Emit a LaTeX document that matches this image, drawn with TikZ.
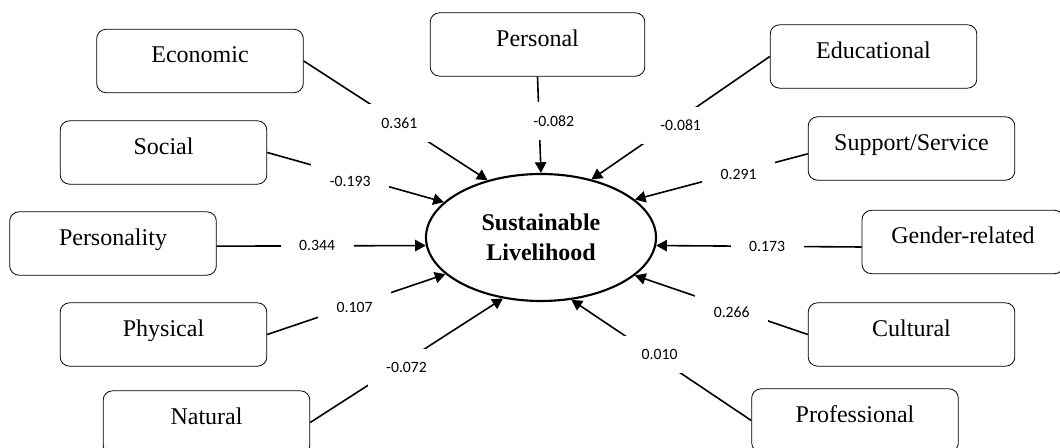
\documentclass[tikz,border=0pt]{standalone}
\usepackage{fontspec}
\setmainfont{Liberation Serif}
\newfontfamily\lblfont{Carlito}
\usetikzlibrary{arrows.meta,shapes.geometric}
\begin{document}
\begin{tikzpicture}[x=0.75pt,y=-0.75pt,>={Triangle[length=8pt,width=8.5pt]},
	factor/.style={draw,line width=0.6pt,rounded corners=7pt,minimum width=155pt,minimum height=47.5pt,inner sep=0pt,text height=12pt,text depth=9pt,font=\fontsize{18}{22}\selectfont},
	coef/.style={fill=white,inner xsep=14pt,inner ysep=10pt,font=\lblfont\fontsize{11.8}{14}\selectfont},
	link/.style={->,line width=1.2pt}]
	\useasboundingbox (0,0) rectangle (1060,448);
	\clip (0,0) rectangle (1060,448);
	\node[ellipse,draw,line width=1.6pt,minimum width=172.5pt,minimum height=95.25pt,align=center,font=\bfseries\fontsize{18}{22.5}\selectfont] (sl) at (541,237.5) {Sustainable\\Livelihood};
	\node[factor] (econ) at (200,61) {Economic};
	\node[factor,minimum width=161pt] (pers) at (537.5,44.5) {Personal};
	\node[factor] (educ) at (873.5,56.5) {Educational};
	\node[factor] (soc) at (163.5,152.5) {Social};
	\node[factor] (supp) at (911.5,148.5) {Support/Service};
	\node[factor] (pty) at (113,243.5) {Personality};
	\node[factor,minimum width=151.5pt] (gend) at (963,242) {Gender-related};
	\node[factor] (phys) at (163.5,334.5) {Physical};
	\node[factor] (cult) at (911.5,334.5) {Cultural};
	\node[factor] (nat) at (206.5,422.5) {Natural};
	\node[factor] (prof) at (855,420.5) {Professional};
	\draw[link] (econ.east) -- (sl.133.7) node[coef,pos=0.52] {0.361};
	\draw[link] (pers.south) -- (sl.90) node[coef,pos=0.46,xshift=11pt] {-0.082};
	\draw[link] (educ.west) -- (sl.49.4) node[coef,pos=0.56,xshift=8pt] {-0.081};
	\draw[link] ([yshift=-4pt]supp.west) -- (sl.22.2) node[coef,pos=0.4,yshift=-2pt] {0.291};
	\draw[link] ([yshift=-3.75pt]gend.west) -- (sl.-4.8) node[coef,pos=0.46] {0.173};
	\draw[link] (cult.west) -- (sl.-22.9) node[coef,pos=0.44,yshift=-3pt] {0.266};
	\draw[link] (prof.west) -- (sl.-64.3) node[coef,pos=0.51,yshift=3pt] {0.010};
	\draw[link] (nat.east) -- (sl.238.3) node[coef,pos=0.5,yshift=-5pt] {-0.072};
	\draw[link] (phys.east) -- (sl.201.4) node[coef,pos=0.49,yshift=-2pt] {0.107};
	\draw[link] ([yshift=-2pt]pty.east) -- (sl.184.1) node[coef,pos=0.48] {0.344};
	\draw[link] (soc.east) -- (sl.160.1) node[coef,pos=0.47,yshift=-4pt] {-0.193};
\end{tikzpicture}
\end{document}
